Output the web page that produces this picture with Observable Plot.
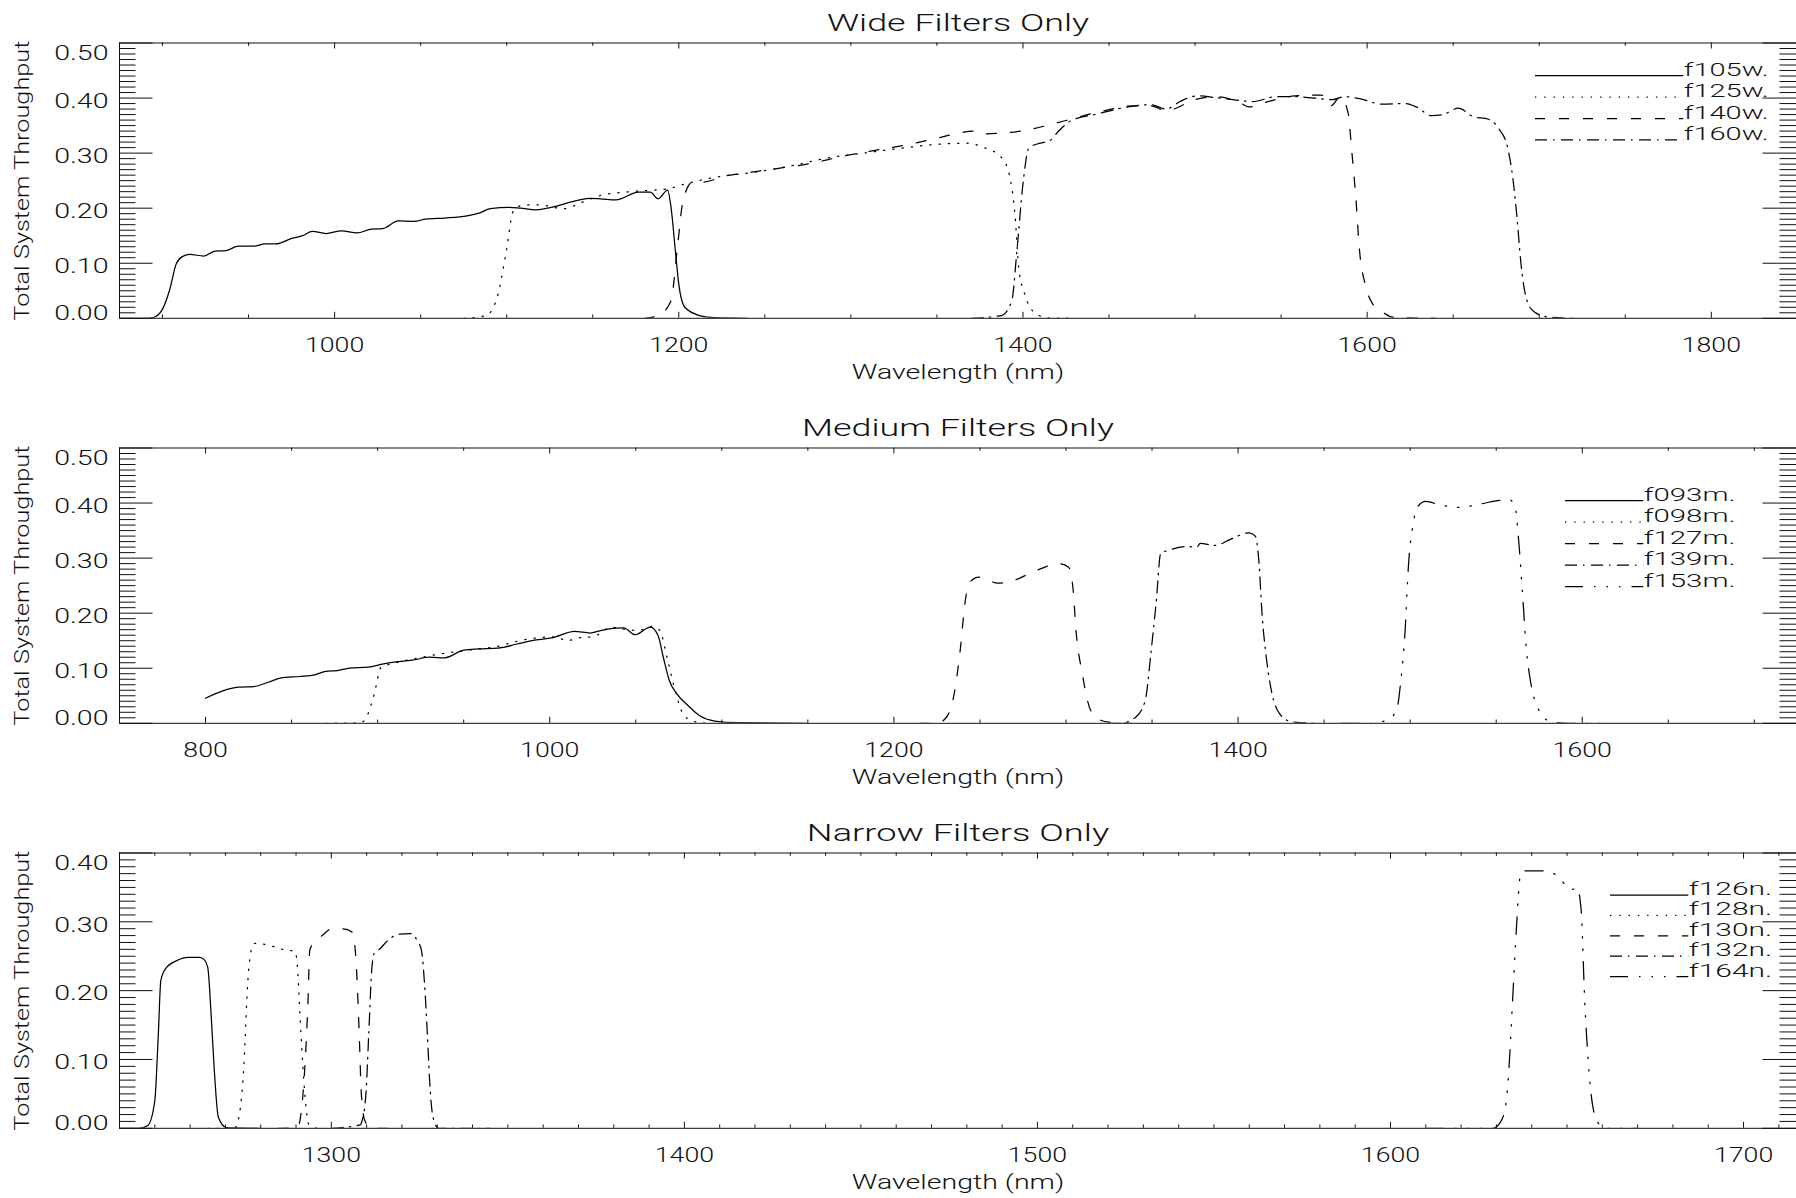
<!DOCTYPE html>
<html><head><meta charset="utf-8">
<script src="https://cdn.jsdelivr.net/npm/d3@7"></script>
<script src="https://cdn.jsdelivr.net/npm/@observablehq/plot@0.6"></script>
<style>
html,body{margin:0;padding:0;background:#fff;}
#root{position:relative;width:1796px;height:1198px;overflow:hidden;background:#fff;}
#root svg{position:absolute;left:0;}
</style></head><body><div id="root"></div>
<script>
// ---------------- DATA ----------------
// Wide filters
const f105w_wl = [875,890,894,899.5,904,908,911.5,916,924,930.5,937,944,953,959.5,966,975,981.5,987,995,1004,1013,1021.5,1028,1037,1046,1053,1064,1077,1084,1090.5,1101.5,1108,1117,1126,1137,1148,1154.5,1163.5,1176.5,1183.5,1188,1193.5,1195.5,1198,1200,1203.5,1212,1221,1240];
const f105w_t  = [0,0,0.001,0.014,0.050,0.099,0.112,0.116,0.113,0.122,0.123,0.131,0.131,0.135,0.135,0.145,0.150,0.158,0.154,0.159,0.155,0.162,0.163,0.177,0.176,0.180,0.182,0.186,0.191,0.199,0.2015,0.200,0.197,0.2015,0.211,0.218,0.217,0.215,0.229,0.229,0.217,0.233,0.2015,0.123,0.062,0.020,0.005,0.001,0];
const f125w_wl = [1075,1088,1095,1099.5,1104,1110.5,1119.5,1133,1144,1154.5,1168,1181,1193.5,1203.5,1221,1243,1265.5,1288,1310,1332,1354.5,1368,1376.5,1387.5,1392,1395.5,1397.5,1401,1405.5,1414,1430];
const f125w_t  = [0,0.005,0.044,0.117,0.196,0.206,0.206,0.199,0.211,0.223,0.229,0.232,0.235,0.244,0.256,0.265,0.277,0.292,0.301,0.310,0.317,0.318,0.311,0.292,0.262,0.183,0.093,0.044,0.014,0.001,0];
const f140w_wl = [1180,1188,1195.5,1199,1202.5,1208,1213,1228,1241,1257,1274.5,1296.5,1314,1332,1350,1365.5,1373.5,1377,1385.5,1399,1421,1443,1465.5,1474.5,1483,1501,1511.5,1525,1531.5,1542.5,1558,1573.5,1579,1584.5,1589,1591,1593.5,1595.5,1599,1603,1607.5,1615,1640];
const f140w_t  = [0,0.005,0.032,0.123,0.214,0.247,0.247,0.259,0.265,0.272,0.280,0.295,0.305,0.315,0.327,0.338,0.340,0.335,0.336,0.340,0.356,0.374,0.386,0.386,0.377,0.398,0.4025,0.3935,0.384,0.3935,0.404,0.4055,0.386,0.4025,0.372,0.306,0.216,0.126,0.060,0.027,0.015,0.002,0];
const f160w_wl = [1370,1387.5,1393.5,1396.5,1400,1403.5,1410,1415.5,1421,1428,1443,1465.5,1474.5,1483,1492,1501,1511.5,1525,1533.5,1547,1558,1569,1580,1586.5,1595.5,1608.5,1622,1628.5,1637.5,1644,1653,1661.5,1670.5,1677,1681.5,1685,1687,1689.5,1692.5,1697,1706,1720];
const f160w_t  = [0,0.005,0.032,0.123,0.244,0.310,0.318,0.3225,0.341,0.359,0.371,0.386,0.388,0.380,0.395,0.404,0.401,0.396,0.3935,0.4025,0.4025,0.400,0.397,0.4025,0.399,0.389,0.390,0.384,0.368,0.370,0.3815,0.3665,0.3615,0.342,0.312,0.246,0.186,0.096,0.036,0.012,0.002,0];

// Medium filters
const f093m_wl = [800,810,819,828,836.5,843.5,854.5,863.5,870,876.5,883.5,894.5,903.5,912,921,930,939,950,959,970,981,992,1001,1014.5,1023.5,1029.5,1038.5,1043,1049.5,1058.5,1063,1066,1069.5,1074,1080.5,1087,1096,1109,1150];
const f093m_t  = [0.0456,0.059,0.0655,0.0667,0.0746,0.082,0.085,0.088,0.0945,0.0958,0.100,0.102,0.108,0.112,0.115,0.120,0.119,0.133,0.135,0.1365,0.144,0.1515,0.155,0.167,0.164,0.1685,0.173,0.1735,0.161,0.1745,0.159,0.120,0.0776,0.053,0.032,0.014,0.004,0.001,0];
const f098m_wl = [870,890,893.5,898,902,905.5,912,925.5,936.5,947.5,959,970,981,992,1003.5,1010,1016.5,1025.5,1036,1043,1051.5,1059.5,1064,1068.5,1073,1077,1083,1092];
const f098m_t  = [0,0.001,0.011,0.053,0.102,0.106,0.111,0.120,0.126,0.131,0.135,0.140,0.149,0.155,0.157,0.150,0.155,0.1575,0.1745,0.171,0.1685,0.176,0.1685,0.115,0.0584,0.020,0.004,0];
const f127m_wl = [1215,1225,1230.5,1235,1238.5,1241.5,1244,1249.5,1260.5,1269.5,1280.5,1296,1301.5,1304,1306,1309.5,1312.5,1317,1325,1338];
const f127m_t  = [0,0,0.011,0.053,0.132,0.223,0.256,0.2655,0.2546,0.2593,0.2745,0.2897,0.2836,0.247,0.1625,0.0898,0.0413,0.011,0.002,0];
const f139m_wl = [1325,1331.5,1340.5,1346,1349.5,1352.5,1355,1360.5,1369.5,1376,1378,1386.5,1395.5,1406.5,1410,1412,1414,1416.5,1419.5,1424,1431,1444];
const f139m_t  = [0,0,0.011,0.041,0.132,0.223,0.308,0.315,0.321,0.320,0.3266,0.323,0.334,0.346,0.340,0.298,0.1955,0.117,0.057,0.018,0.003,0];
const f153m_wl = [1460,1477,1488,1492.5,1494.5,1497,1499,1501.5,1504.5,1509,1517,1528,1539,1550,1557.5,1561,1563,1565.5,1567.5,1570,1574,1581,1592,1612];
const f153m_t  = [0,0,0.008,0.029,0.075,0.165,0.286,0.358,0.394,0.403,0.397,0.392,0.397,0.404,0.406,0.394,0.334,0.2256,0.1354,0.075,0.029,0.004,0,0];

// Narrow filters
const f126n_wl = [1240,1245.5,1248,1250,1251,1251.7,1253,1256.2,1259.5,1262.7,1264,1265,1266,1266.8,1268,1270.3,1280];
const f126n_t  = [0,0,0.004,0.040,0.137,0.2145,0.2315,0.2436,0.2484,0.2484,0.245,0.2338,0.161,0.0886,0.016,0.001,0];
const f128n_wl = [1265,1272.5,1273.6,1275.2,1276.3,1277.4,1278.4,1282.2,1286.6,1289.8,1290.4,1291.4,1292.5,1293.6,1296];
const f128n_t  = [0,0,0.011,0.0886,0.2097,0.2606,0.2688,0.266,0.2595,0.257,0.234,0.137,0.05,0.006,0];
const f130n_wl = [1285,1290.4,1291.4,1292.5,1293.4,1293.9,1295.2,1297.4,1300.1,1303.3,1306,1307.1,1307.9,1308.5,1309.5,1311.4,1320];
const f130n_t  = [0,0.001,0.021,0.0886,0.186,0.259,0.27,0.28,0.2897,0.2897,0.2847,0.234,0.137,0.05,0.011,0,0];
const f132n_wl = [1300,1308.2,1308.7,1309.8,1310.6,1311.5,1312.3,1313.6,1315.8,1319,1322.3,1324.4,1325.5,1326.4,1327.2,1327.9,1328.8,1330.4,1345];
const f132n_t  = [0,0.005,0.011,0.05,0.137,0.234,0.256,0.26,0.272,0.282,0.283,0.272,0.259,0.21,0.137,0.064,0.016,0,0];
const f164n_wl = [1610,1629,1630.9,1632.5,1633.6,1634.6,1635.7,1636.8,1637.8,1642.7,1647,1649.7,1651.3,1652.9,1654,1655,1656.1,1657.2,1658.8,1660.9,1670];
const f164n_t  = [0,0,0.007,0.029,0.091,0.1875,0.2933,0.368,0.374,0.374,0.368,0.353,0.347,0.349,0.317,0.1875,0.091,0.035,0.008,0,0];

// Titles, legend names, tick labels
const panelTitles = ["Wide Filters Only", "Medium Filters Only", "Narrow Filters Only"];
const wideNames   = ["f105w.", "f125w.", "f140w.", "f160w."];
const mediumNames = ["f093m.", "f098m.", "f127m.", "f139m.", "f153m."];
const narrowNames = ["f126n.", "f128n.", "f130n.", "f132n.", "f164n."];
const wideXTicks   = [1000, 1200, 1400, 1600, 1800];
const mediumXTicks = [800, 1000, 1200, 1400, 1600];
const narrowXTicks = [1300, 1400, 1500, 1600, 1700];
const wideYTicks   = [0, 0.1, 0.2, 0.3, 0.4, 0.5];
const narrowYTicks = [0, 0.1, 0.2, 0.3, 0.4];
const xLabel = "Wavelength (nm)";
const yLabel = "Total System Throughput";

// ---------------- STYLE ----------------
const FONT = "Roboto, 'Liberation Sans', sans-serif";
const INK = "#111";
const DASH = {
  solid: null,
  dotted: "1.3 8",
  dashed: "10 14",
  dashdot: "12 6 1.5 6.5",
  dash3dot: "18 11 1.5 11 1.5 11 1.5 11"
};
const STYLE_ORDER = ["solid", "dotted", "dashed", "dashdot", "dash3dot"];
const W = 1796, ML = 119, MT = 42.5, FH = 275.3, FW = W - ML;

const table = (wl, t) => wl.map((w, i) => ({wl: w, t: t[i]}));
const minorBetween = (lo, hi, step, majors) =>
  d3.range(Math.round((hi - lo) / step) + 1).map(i => +(lo + i * step).toFixed(4))
    .filter(v => !majors.some(m => Math.abs(m - v) < 1e-9));

const panels = [
  {title: panelTitles[0], top: 0, height: 405, xDomain: [875, 1849.5], yDomain: [0, 0.5],
   xMajor: wideXTicks, xMinor: minorBetween(900, 1800, 50, wideXTicks),
   yMajor: wideYTicks,
   series: [table(f105w_wl, f105w_t), table(f125w_wl, f125w_t), table(f140w_wl, f140w_t), table(f160w_wl, f160w_t)],
   names: wideNames, legend: {x1: 1535, x2: 1683.3, y0: 75.7, step: 21.4, ref: 85}},
  {title: panelTitles[1], top: 405, height: 405, xDomain: [750, 1724.5], yDomain: [0, 0.5],
   xMajor: mediumXTicks, xMinor: minorBetween(850, 1700, 50, mediumXTicks),
   yMajor: wideYTicks,
   series: [table(f093m_wl, f093m_t), table(f098m_wl, f098m_t), table(f127m_wl, f127m_t), table(f139m_wl, f139m_t), table(f153m_wl, f153m_t)],
   names: mediumNames, legend: {x1: 1565, x2: 1643.3, y0: 95.7, step: 21.5, ref: 91.7}},
  {title: panelTitles[2], top: 810, height: 388, xDomain: [1240, 1715], yDomain: [0, 0.4],
   xMajor: narrowXTicks, xMinor: minorBetween(1250, 1710, 10, narrowXTicks),
   yMajor: narrowYTicks,
   series: [table(f126n_wl, f126n_t), table(f128n_wl, f128n_t), table(f130n_wl, f130n_t), table(f132n_wl, f132n_t), table(f164n_wl, f164n_t)],
   names: narrowNames, legend: {x1: 1610, x2: 1688.3, y0: 85, step: 20.4, ref: 83.4}}
];

const titleWidths = {"Wide Filters Only": 262.2, "Medium Filters Only": 311.9, "Narrow Filters Only": 302.3};

const root = document.getElementById("root");
const fmtY = d3.format(".2f");
const fmtX = d => String(d);

panels.forEach((p) => {
  const yMax = p.yDomain[1];
  const yMinor = d3.range(1, Math.round(yMax * 100)).filter(i => i % 10 !== 0).map(i => i / 100);
  const yMid = p.yMajor.filter(v => v > 0 && v < yMax - 1e-9);
  const tickFont = {fontSize: 21, fontWeight: 300, fill: INK};
  const marks = [
    // inward ticks: x (bottom & top)
    Plot.tickX(p.xMajor, {x: d => d, insetTop: FH - 6, stroke: INK}),
    Plot.tickX(p.xMajor, {x: d => d, insetBottom: FH - 6, stroke: INK}),
    Plot.tickX(p.xMinor, {x: d => d, insetTop: FH - 3.3, stroke: INK}),
    Plot.tickX(p.xMinor, {x: d => d, insetBottom: FH - 3.3, stroke: INK}),
    // inward ticks: y (left & right)
    Plot.tickY(p.yMajor, {y: d => d, insetRight: FW - 33.5, stroke: INK}),
    Plot.tickY(p.yMajor, {y: d => d, insetLeft: FW - 33.5, stroke: INK}),
    Plot.tickY(yMinor, {y: d => d, insetRight: FW - 16.5, stroke: INK}),
    Plot.tickY(yMinor, {y: d => d, insetLeft: FW - 16.5, stroke: INK}),
    // box
    Plot.ruleY([p.yDomain[0]], {stroke: INK}),
    Plot.ruleY([p.yDomain[1]], {stroke: INK}),
    Plot.ruleX([p.xDomain[0]], {stroke: INK}),
    // curves
    ...p.series.map((s, i) => Plot.line(s, {
      x: "wl", y: "t", stroke: "#000", strokeWidth: 1.25,
      strokeDasharray: DASH[STYLE_ORDER[i]], curve: "monotone-x", clip: true
    })),
    // tick labels
    Plot.axisX(p.xMajor, {anchor: "bottom", tickSize: 0, tickPadding: 19, tickFormat: fmtX, label: null, ...tickFont}),
    Plot.axisY(yMid, {anchor: "left", tickSize: 0, tickPadding: 11, tickFormat: fmtY, label: null, dy: 3, ...tickFont}),
    Plot.axisY([yMax], {anchor: "left", tickSize: 0, tickPadding: 11, tickFormat: fmtY, label: null, dy: 10, ...tickFont}),
    Plot.axisY([0], {anchor: "left", tickSize: 0, tickPadding: 11, tickFormat: fmtY, label: null, dy: -5, ...tickFont}),
    // titles
    Plot.text([p.title], {frameAnchor: "top", textAnchor: "middle", dy: -12.3, lineAnchor: "bottom", fontSize: 23.5, fontWeight: 300, fill: INK}),
    Plot.text([xLabel], {frameAnchor: "bottom", textAnchor: "middle", dy: 60.5, lineAnchor: "bottom", fontSize: 20.5, fontWeight: 300, fill: INK}),
    Plot.text([yLabel], {frameAnchor: "left", textAnchor: "middle", rotate: -90, dx: -90.3, lineAnchor: "bottom", fontSize: 21, fontWeight: 300, fill: INK})
  ];
  const svg = Plot.plot({
    width: W, height: p.height,
    marginLeft: ML, marginRight: 0, marginTop: MT, marginBottom: p.height - MT - FH,
    x: {domain: p.xDomain}, y: {domain: p.yDomain},
    style: {fontFamily: FONT, color: INK, background: "#fff", overflow: "visible"},
    marks
  });
  svg.style.top = p.top + "px";
  root.appendChild(svg);

  // legend (inside the plot box, top right)
  const g = d3.select(svg).append("g").attr("class", "legend");
  const L = p.legend;
  p.names.forEach((name, i) => {
    const y = L.y0 + i * L.step;
    g.append("line").attr("x1", L.x1).attr("x2", L.x2).attr("y1", y).attr("y2", y)
      .attr("stroke", "#000").attr("stroke-width", 1.25)
      .attr("stroke-dasharray", DASH[STYLE_ORDER[i]]);
    g.append("text").attr("class", "legend-label").attr("x", L.x2 + 0.5).attr("y", y)
      .attr("text-anchor", "start")
      .attr("font-size", 17.5).attr("font-weight", 300).attr("fill", INK)
      .attr("font-family", FONT).text(name);
  });

  // stretch text horizontally (Hershey-like wide lettering)
  const stretch = (els, factor) => {
    const w = els.map(el => el.getComputedTextLength());
    els.forEach((el, i) => {
      el.setAttribute("textLength", (w[i] * factor).toFixed(2));
      el.setAttribute("lengthAdjust", "spacingAndGlyphs");
    });
  };
  const xt = Array.from(svg.querySelectorAll('[aria-label="x-axis tick label"] text'));
  const yt = Array.from(svg.querySelectorAll('[aria-label="y-axis tick label"] text'));
  if (xt.length) {
    const ref = xt.find(e => e.textContent.length === 4) || xt[0];
    stretch(xt, 59.3 / ref.getComputedTextLength());
  }
  if (yt.length) {
    const ref = yt[0];
    stretch(yt, 54.3 / ref.getComputedTextLength());
  }
  svg.querySelectorAll('[aria-label="text"] text').forEach(el => {
    const s = el.textContent;
    let target = null;
    if (titleWidths[s]) target = titleWidths[s];
    else if (s === xLabel) target = 212.4;
    else if (s === yLabel) target = 280;
    if (target) { el.setAttribute("textLength", target); el.setAttribute("lengthAdjust", "spacingAndGlyphs"); }
  });
  const leg = Array.from(svg.querySelectorAll(".legend-label"));
  stretch(leg, L.ref / leg[0].getComputedTextLength());
});
</script>
</body></html>
